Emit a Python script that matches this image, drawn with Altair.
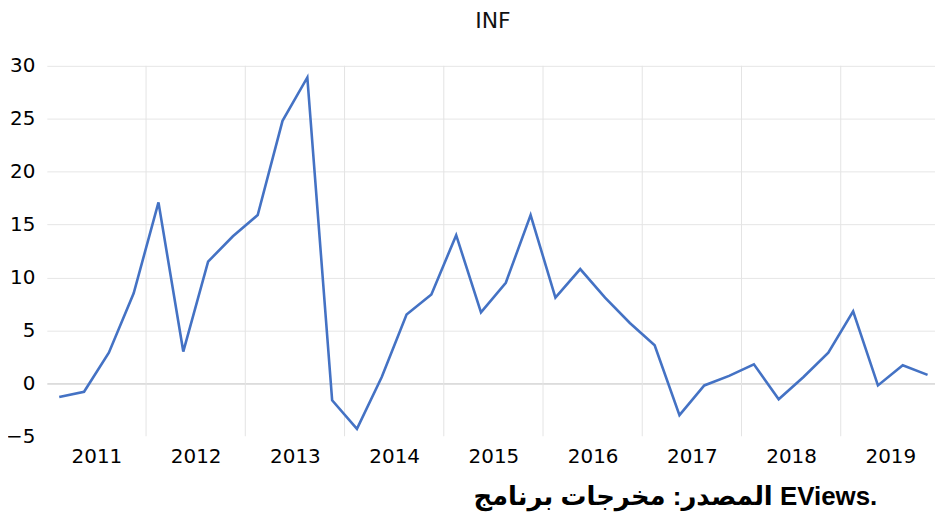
import altair as alt
import pandas as pd

years = [2011, 2012, 2013, 2014, 2015, 2016, 2017, 2018, 2019]
quarters = [1, 2, 3, 4]
inf = [-1.3, -0.8, 2.9, 8.5,
       17.1, 3.0, 11.5, 13.9,
       15.9, 24.8, 28.9, -1.6,
       -4.3, 0.6, 6.5, 8.4,
       14.0, 6.7, 9.5, 15.9,
       8.1, 10.8, 8.1, 5.7,
       3.6, -3.0, -0.2, 0.7,
       1.8, -1.5, 0.6, 2.9,
       6.8, -0.2, 1.7, 0.8]
y_ticks = [-5, 0, 5, 10, 15, 20, 25, 30]
title_text = "INF"
caption_text = "المصدر: مخرجات برنامج EViews."

rows = []
i = 0
for yr in years:
    for q in quarters:
        rows.append({"t": yr + (q - 0.5) / 4, "INF": inf[i]})
        i += 1
df = pd.DataFrame(rows)

year_mid = [y + 0.5 for y in years]
bounds = pd.DataFrame({"b": years[1:]})

W, H = 892, 372
xscale = alt.Scale(domain=[2011, 2019.95], nice=False)
yscale = alt.Scale(domain=[-5, 30], nice=False)

font = "DejaVu Sans"

vgrid = alt.Chart(bounds).mark_rule(color="#e4e4e4", strokeWidth=1).encode(
    x=alt.X("b:Q", scale=xscale),
    y=alt.value(0),
    y2=alt.value(H),
)

line = alt.Chart(df).mark_line(color="#4472C4", strokeWidth=2.6).encode(
    x=alt.X("t:Q", scale=xscale, title=None,
            axis=alt.Axis(values=year_mid, labelExpr="floor(datum.value)",
                          ticks=False, grid=False, domain=False,
                          labelFontSize=20, labelFont=font, labelColor="#000000",
                          labelPadding=10)),
    y=alt.Y("INF:Q", scale=yscale, title=None,
            axis=alt.Axis(values=y_ticks, ticks=False, domain=False,
                          labelFontSize=20, labelFont=font, labelColor="#000000",
                          labelPadding=12,
                          gridColor={"condition": {"test": "datum.value === 0", "value": "#bfbfbf"},
                                     "value": "#e6e6e6"},
                          gridOpacity={"condition": {"test": "datum.value === -5", "value": 0},
                                       "value": 1},
                          gridWidth=1)),
)

title = alt.Chart(pd.DataFrame({"s": [title_text]})).mark_text(
    fontSize=22, font=font, color="#111111", align="center", baseline="middle"
).encode(text="s:N", x=alt.value(448), y=alt.value(-45))

caption = alt.Chart(pd.DataFrame({"s": [caption_text]})).mark_text(
    fontSize=26, font="Liberation Sans, Arial, DejaVu Sans", fontWeight="bold",
    color="#000000", align="right", baseline="middle", dir="rtl"
).encode(text="s:N", x=alt.value(834), y=alt.value(433))

chart = alt.layer(vgrid, line, title, caption).properties(
    width=W, height=H,
    autosize=alt.AutoSizeParams(type="none"),
    padding={"left": 39, "top": 57, "right": 0, "bottom": 75},
).configure_view(stroke=None)

chart.save("out.html", embed_options={"renderer": "svg", "actions": False})
